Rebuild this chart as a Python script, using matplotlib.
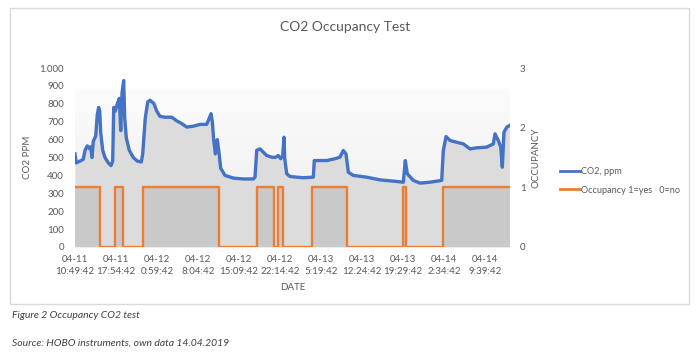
import numpy as np
import matplotlib.pyplot as plt
from matplotlib.lines import Line2D
from matplotlib.patches import Rectangle

plt.rcParams['font.family'] = ['Lato', 'DejaVu Sans']

# hours since 04-11 10:49:42
co2_hours = [0.00, 0.22, 0.86, 1.43, 1.73, 2.12, 2.47, 2.71, 2.94, 3.16, 3.58, 3.85, 4.09, 4.27,
             4.44, 4.79, 5.18, 5.75, 6.22, 6.51, 6.69, 6.96, 7.31, 7.65, 7.90, 8.12, 8.41, 8.59,
             8.86, 9.38, 10.07, 10.76, 11.45, 11.70, 12.14, 12.56, 12.96, 13.65, 14.11, 14.68,
             15.55, 16.71, 17.57, 18.43, 19.30, 20.44, 21.60, 22.75, 23.20, 23.50, 23.72, 23.96,
             24.24, 24.58, 24.83, 25.17, 25.91, 27.35, 29.08, 30.80, 31.10, 31.39, 31.96, 33.12,
             33.98, 34.55, 35.12, 35.54, 35.88, 36.11, 36.23, 36.57, 37.14, 38.30, 39.44, 41.17,
             41.34, 42.03, 43.48, 44.92, 45.78, 46.35, 46.82, 47.22, 48.08, 50.39, 52.69, 54.99,
             56.72, 57.06, 57.41, 58.45, 59.60, 61.33, 63.35, 63.63, 64.10, 64.79, 65.95, 67.09,
             68.24, 69.40, 71.13, 72.27, 72.56, 73.13, 73.55, 73.82, 74.11, 74.58, 75.03]
co2_ppm = [520, 470, 480, 490, 540, 565, 550, 560, 500, 590, 620, 740, 780, 760,
           640, 540, 500, 470, 455, 480, 780, 760, 800, 830, 650, 860, 930, 720,
           610, 540, 500, 480, 475, 520, 720, 810, 820, 800, 760, 730,
           725, 725, 705, 690, 670, 675, 685, 685, 720, 745, 700, 600,
           520, 600, 540, 440, 400, 385, 380, 380, 390, 540, 548, 511,
           502, 500, 511, 493, 511, 613, 495, 409, 394, 390, 387, 390,
           483, 483, 483, 493, 502, 539, 520, 418, 400, 390, 375, 368,
           362, 483, 409, 372, 357, 362, 372, 539, 617, 595, 585, 576,
           548, 554, 558, 576, 632, 595, 558, 446, 641, 669, 678]

occ_hours = [0.00, 4.32, 6.91, 8.34, 11.70, 24.83, 31.39, 34.41, 35.12, 35.99,
             40.99, 46.94, 56.72, 57.18, 63.52, 75.15]
occ_state = [1, 0, 1, 0, 1, 0, 1, 0, 1, 0, 1, 0, 1, 0, 1, 1]

tick_labels = ['04-11\n10:49:42', '04-11\n17:54:42', '04-12\n0:59:42', '04-12\n8:04:42',
               '04-12\n15:09:42', '04-12\n22:14:42', '04-13\n5:19:42', '04-13\n12:24:42',
               '04-13\n19:29:42', '04-14\n2:34:42', '04-14\n9:39:42']
tick_step = 425 / 60  # hours between labels

grey = '#595959'
blue = '#4472c4'
orange = '#ed7d31'
x_end = occ_hours[-1]

fig = plt.figure(figsize=(7, 3.55), dpi=100)
fig.patches.append(Rectangle((10 / 700, 1 - 304 / 355), 679 / 700, 296 / 355,
                             transform=fig.transFigure, fill=False,
                             edgecolor='#d9d9d9', lw=1))

ax = fig.add_axes([75 / 700, 1 - 247 / 355, 435 / 700, 179 / 355])
ax2 = ax.twinx()

ax.set_xlim(0, x_end)
ax.set_ylim(0, 1000)
ax2.set_ylim(0, 3)
ax2.set_xlim(0, x_end)

# faint gradient band behind the series
grad = np.linspace(0.985, 0.93, 100).reshape(-1, 1)
ax.imshow(np.dstack([grad, grad, grad]), extent=[0, x_end, 0, 880],
          aspect='auto', origin='upper', zorder=0)
ax.fill_between(co2_hours, co2_ppm, color='#dcdcdc', lw=0, zorder=1)

# occupancy on top of the CO2 area, CO2 line on top of everything
ax2.fill_between(occ_hours, occ_state, step='post', color='#c9c9c9', lw=0, zorder=1)
ax2.step(occ_hours, occ_state, where='post', color=orange, lw=1.7, zorder=2)
ax2.plot(co2_hours, co2_ppm, color=blue, lw=2.4, zorder=3, transform=ax.transData)

ax.set_xlim(0, x_end)
ax.set_ylim(0, 1000)
ax2.set_ylim(0, 3)

ax.set_yticks(range(0, 1001, 100))
ax.set_yticklabels(['1.000' if v == 1000 else str(v) for v in range(0, 1001, 100)])
ax2.set_yticks([0, 1, 2, 3])
ax.set_xticks([i * tick_step for i in range(len(tick_labels))])
ax.set_xticklabels(tick_labels, linespacing=1.35)

for a in (ax, ax2):
    for s in a.spines.values():
        s.set_visible(False)
    a.tick_params(length=0, labelsize=7, labelcolor=grey)
ax.tick_params(axis='y', pad=8)
ax.tick_params(axis='x', pad=6)
ax2.tick_params(axis='y', pad=7)

ax.set_xlabel('DATE', fontsize=7, color=grey, labelpad=5)
ax.set_ylabel('CO2 PPM', fontsize=7, color=grey, labelpad=5)
ax2.set_ylabel('OCCUPANCY', fontsize=7, color=grey, labelpad=4)

fig.text(345 / 700, 1 - 27 / 355, 'CO2 Occupancy Test', ha='center', va='center',
         fontsize=10, color=grey)

handles = [Line2D([], [], color=blue, lw=2), Line2D([], [], color=orange, lw=2)]
fig.legend(handles, ['CO2, ppm', 'Occupancy 1=yes   0=no'], loc='center left',
           bbox_to_anchor=(552 / 700, 1 - 181 / 355), frameon=False, fontsize=6.6,
           handlelength=2.2, handletextpad=0.1, labelspacing=1.0, labelcolor=grey)

fig.text(12 / 700, 1 - 316 / 355, 'Figure 2 Occupancy CO2 test', fontsize=7.5,
         style='italic', color='#404040', va='center')
fig.text(12 / 700, 1 - 343 / 355, 'Source: HOBO instruments, own data 14.04.2019',
         fontsize=7.5, style='italic', color='#404040', va='center')

fig.savefig('out.png', dpi=100)
